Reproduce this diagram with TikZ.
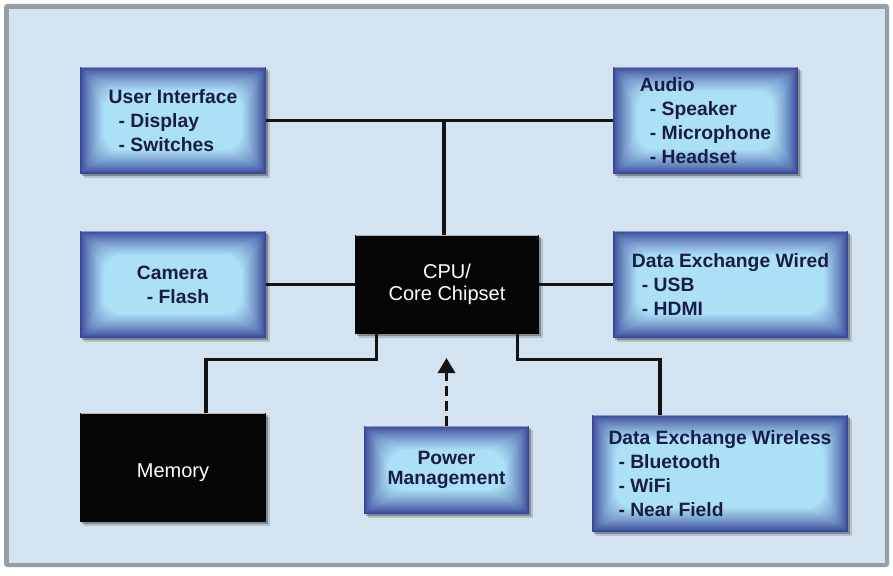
\documentclass[tikz,border=0pt]{standalone}
\usepackage{fontspec}
\setmainfont{Liberation Sans}
\usetikzlibrary{arrows.meta,calc}
\definecolor{panel}{RGB}{211,227,239}
\definecolor{frame}{RGB}{150,157,163}
\definecolor{bdark}{RGB}{55,68,150}
\definecolor{blight}{RGB}{172,224,247}
\definecolor{navy}{RGB}{24,29,72}
\definecolor{wire}{RGB}{20,20,20}
\pgfdeclarelayer{back}
\pgfdeclarelayer{shade}
\pgfsetlayers{back,shade,main}
\newcommand\ind{\hspace*{10pt}}
\newcommand\dropshade[1]{%
  \fill[black,opacity=.28] ($(#1.south west)+(2,2)$) rectangle ($(#1.north east)+(2,2)$);
  \fill[black,opacity=.15] ($(#1.south west)+(4,4)$) rectangle ($(#1.north east)+(4,4)$);
}
\newcommand\glowshade[1]{%
  \begin{pgfonlayer}{shade}
  \dropshade{#1}
  \foreach \i in {0,...,24}{%
    \pgfmathtruncatemacro\p{100*(\i/24)^0.8}%
    \pgfmathsetmacro\r{\i*0.8}%
    \fill[blight!\p!bdark, rounded corners=\r pt] ($(#1.south west)+(\i,-\i)$) rectangle ($(#1.north east)+(-\i,\i)$);
  }
  \draw[white,opacity=.45,line width=1pt] ($(#1.north west)+(1,0.6)$) -- ($(#1.north east)+(-1,0.6)$);
  \end{pgfonlayer}
}
\newcommand\blackshade[1]{%
  \begin{pgfonlayer}{shade}
  \dropshade{#1}
  \fill[black!98] (#1.south west) rectangle (#1.north east);
  \draw[white,opacity=.7,line width=1pt] ($(#1.north west)+(1,0.6)$) -- ($(#1.north east)+(-1,0.6)$);
  \end{pgfonlayer}
}
\tikzset{
  bluebox/.style={inner sep=0pt, text=navy, align=left,
    font=\bfseries\fontsize{19.3}{24}\selectfont},
  blackbox/.style={inner sep=0pt, text=white, align=center,
    font=\fontsize{20}{22}\selectfont},
  wireline/.style={draw=wire, line width=3.2pt},
  dashwire/.style={draw=wire, line width=3.2pt, dash pattern=on 10pt off 5pt,
    -{Triangle[width=17pt,length=15pt]}}
}
\begin{document}
\begin{tikzpicture}[x=1pt,y=-1pt]
\useasboundingbox (0,0) rectangle (893,575);
\begin{pgfonlayer}{back}
  \fill[white] (0,0) rectangle (893,575);
  \fill[frame, rounded corners=3pt] (4,4) rectangle (889,567);
  \fill[panel] (9,9) rectangle (885,563);
\end{pgfonlayer}

\node[bluebox, minimum width=186pt, minimum height=107pt] (ui) at (173,120.5)
  {User Interface\\\ind- Display\\\ind- Switches};
\node[bluebox, minimum width=185pt, minimum height=107pt] (audio) at (705.5,120.5)
  {Audio\\\ind- Speaker\\\ind- Microphone\\\ind- Headset};
\node[bluebox, minimum width=186pt, minimum height=107pt] (cam) at (173,284.5)
  {Camera\\\ind- Flash};
\node[blackbox, minimum width=184pt, minimum height=98pt] (cpu) at (447,284.5)
  {CPU/\\Core Chipset};
\node[bluebox, minimum width=235pt, minimum height=107pt] (wired) at (730.5,284.5)
  {Data Exchange Wired\\\ind- USB\\\ind- HDMI};
\node[blackbox, minimum width=186pt, minimum height=109pt] (mem) at (173,467.5)
  {\raisebox{-10pt}[0pt][0pt]{Memory}};
\node[bluebox, align=center, font=\bfseries\fontsize{19.3}{20}\selectfont,
  minimum width=165pt, minimum height=88pt] (power) at (446.5,470)
  {Power\\Management};
\node[bluebox, minimum width=256pt, minimum height=117pt] (wless) at (720,473.5)
  {Data Exchange Wireless\\\ind- Bluetooth\\\ind- WiFi\\\ind- Near Field};

\glowshade{ui}
\glowshade{audio}
\glowshade{cam}
\glowshade{wired}
\glowshade{power}
\glowshade{wless}
\blackshade{cpu}
\blackshade{mem}

\begin{pgfonlayer}{shade}
  \draw[wireline] (ui.east) -- (audio.west);
  \draw[wireline] ([xshift=-3pt]cpu.north) -- ([xshift=-3pt]cpu.north |- ui.east);
  \draw[wireline] (cam.east) -- (cpu.west);
  \draw[wireline] (cpu.east) -- (wired.west);
  \draw[wireline] ([xshift=22pt]cpu.south west) -- ++(0,26) -| ([xshift=33pt]mem.north);
  \draw[wireline] ([xshift=-22pt]cpu.south east) -- ++(0,26) -| ([xshift=-60pt]wless.north);
\end{pgfonlayer}
\coordinate (ptip) at (446.5,358);
\draw[dashwire] (power.north) -- (ptip);
\end{tikzpicture}
\end{document}
